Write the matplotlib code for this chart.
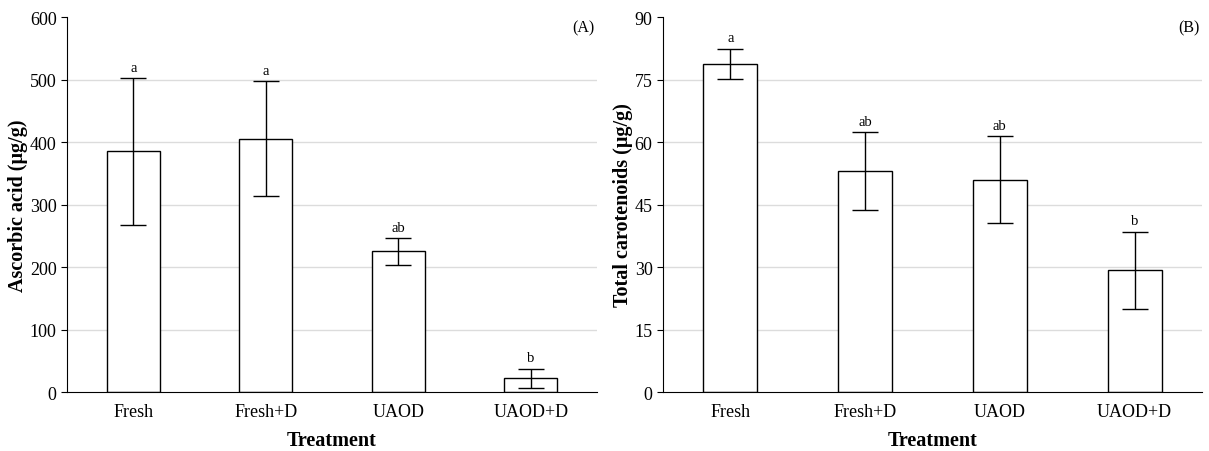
import matplotlib.pyplot as plt

plt.rcParams['font.family'] = ['Liberation Serif', 'DejaVu Serif']

treatments = ['Fresh', 'Fresh+D', 'UAOD', 'UAOD+D']

ascorbic = [385, 405, 225, 22]
ascorbic_err = [117, 92, 21, 15]
ascorbic_letters = ['a', 'a', 'ab', 'b']

carotenoids = [78.8, 53.0, 51.0, 29.2]
carotenoids_err = [3.6, 9.3, 10.4, 9.3]
carotenoid_letters = ['a', 'ab', 'ab', 'b']


def bar_panel(ax, values, errs, letters, ylabel, yticks, tag):
    x = range(len(treatments))
    ax.bar(x, values, width=0.4, color='white', edgecolor='black', linewidth=1.0, zorder=2)
    ax.errorbar(x, values, yerr=errs, fmt='none', ecolor='black', elinewidth=1.0,
                capsize=9.5, capthick=1.0, zorder=3)
    # significance letters just above each error bar
    offset = yticks[-1] * 0.012
    for xi, v, e, l in zip(x, values, errs, letters):
        ax.text(xi, v + e + offset, l, ha='center', va='bottom', fontsize=10.5)

    ax.set_xlim(-0.5, 3.5)
    ax.set_ylim(yticks[0], yticks[-1])
    ax.set_yticks(yticks)
    ax.set_xticks(list(x))
    ax.set_xticklabels(treatments)
    ax.tick_params(axis='y', direction='out', length=4, labelsize=13)
    ax.tick_params(axis='x', direction='in', length=3, labelsize=13, pad=8)
    for t in yticks[1:-1]:
        ax.axhline(t, color='#dcdcdc', linewidth=1.0, zorder=0)

    ax.spines['top'].set_visible(False)
    ax.spines['right'].set_visible(False)
    ax.set_xlabel('Treatment', fontsize=14.5, fontweight='bold', labelpad=7)
    ax.set_ylabel(ylabel, fontsize=14.5, fontweight='bold', labelpad=1)
    ax.text(0.995, 0.995, tag, transform=ax.transAxes, ha='right', va='top', fontsize=11.5)


fig = plt.figure(figsize=(12.09, 4.52), dpi=100)
ax1 = fig.add_axes([0.0554, 0.1305, 0.4384, 0.8295])
ax2 = fig.add_axes([0.5484, 0.1305, 0.4458, 0.8295])

bar_panel(ax1, ascorbic, ascorbic_err, ascorbic_letters,
          'Ascorbic acid (μg/g)', [0, 100, 200, 300, 400, 500, 600], '(A)')
bar_panel(ax2, carotenoids, carotenoids_err, carotenoid_letters,
          'Total carotenoids (μg/g)', [0, 15, 30, 45, 60, 75, 90], '(B)')

fig.savefig('out.png', dpi=100)
